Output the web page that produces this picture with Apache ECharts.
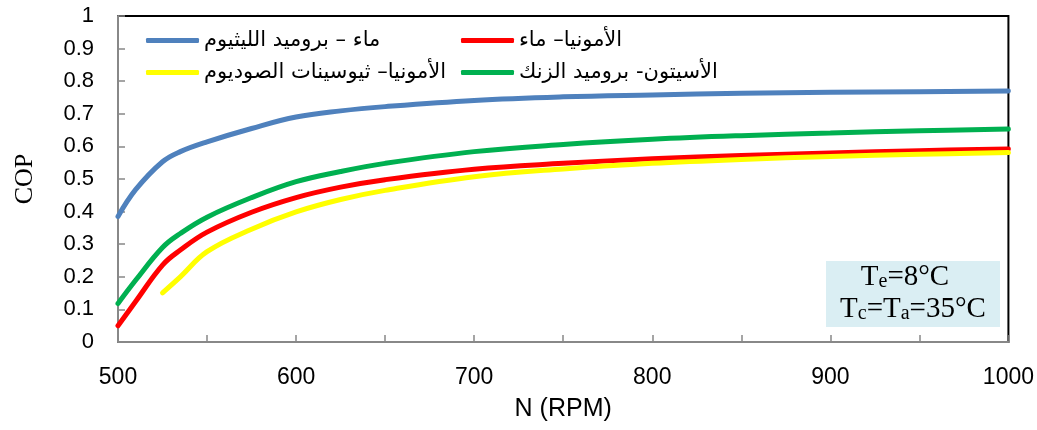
<!DOCTYPE html>
<html><head><meta charset="utf-8">
<script src="https://cdn.jsdelivr.net/npm/echarts@6/dist/echarts.min.js"></script>
<style>html,body{margin:0;padding:0;background:#fff}#c{width:1037px;height:430px}</style>
</head><body><div id="c"></div>
<script>
const N = [500, 510, 525, 535, 550, 575, 600, 625, 650, 700, 750, 800, 850, 900, 950, 1000];
const blueName = 'ماء – بروميد الليثيوم';
const redName = 'الأمونيا– ماء';
const yellowName = 'الأمونيا– ثيوسينات الصوديوم';
const greenName = 'الأسيتون- بروميد الزنك';
const blueVals = [0.385, 0.468, 0.553, 0.584, 0.614, 0.655, 0.690, 0.709, 0.722, 0.741, 0.752, 0.758, 0.763, 0.766, 0.768, 0.770];
const redVals = [0.05, 0.125, 0.236, 0.282, 0.337, 0.398, 0.443, 0.475, 0.498, 0.530, 0.548, 0.562, 0.572, 0.580, 0.587, 0.592];
const yellowVals = [null, null, 0.151, 0.200, 0.277, 0.346, 0.399, 0.437, 0.465, 0.507, 0.531, 0.548, 0.560, 0.569, 0.576, 0.581];
const greenVals = [0.118, 0.19, 0.29, 0.333, 0.383, 0.443, 0.492, 0.523, 0.548, 0.584, 0.606, 0.622, 0.633, 0.641, 0.648, 0.653];

const pairs = v => N.map((n, i) => [n, v[i]]);
const mk = (name, vals, color) => ({
  name, type: 'line', data: pairs(vals), smooth: 0.4, showSymbol: false, symbol: 'none',
  lineStyle: { width: 5, color, cap: 'round' }, itemStyle: { color }, connectNulls: false
});
const legendText = { fontFamily: 'DejaVu Sans', fontSize: 21, color: '#000' };
const lg = (name, left, top) => ({
  data: [name], left, top, icon: 'roundRect', itemWidth: 53, itemHeight: 5, itemGap: 0,
  textStyle: legendText, selectedMode: false, padding: 0
});
const chart = echarts.init(document.getElementById('c'), null, { renderer: 'canvas' });
chart.setOption({
  animation: false,
  grid: { left: 118, right: 27, top: 16, bottom: 88, show: true, borderColor: '#000', borderWidth: 2 },
  legend: [lg(blueName, 146, 30), lg(redName, 461, 30), lg(yellowName, 146, 62), lg(greenName, 461, 62)],
  xAxis: {
    type: 'value', min: 500, max: 1000, interval: 50,
    name: 'N (RPM)', nameLocation: 'middle', nameGap: 55,
    nameTextStyle: { fontFamily: 'Liberation Sans', fontSize: 25, color: '#000' },
    axisLine: { lineStyle: { color: '#888', width: 2 } },
    axisTick: { inside: true, length: 7, lineStyle: { color: '#888', width: 1.5 } },
    axisLabel: { margin: 24, fontFamily: 'Liberation Sans', fontSize: 23, color: '#000',
      formatter: v => (v % 100 === 0 ? String(v) : '') },
    splitLine: { show: false }
  },
  yAxis: {
    type: 'value', min: 0, max: 1, interval: 0.1,
    name: 'COP', nameLocation: 'middle', nameGap: 80,
    nameTextStyle: { fontFamily: 'Liberation Serif', fontSize: 26, color: '#000' },
    axisLine: { show: true, lineStyle: { color: '#888', width: 2 } },
    axisTick: { show: true, inside: true, length: 7, lineStyle: { color: '#888', width: 1.5 } },
    axisLabel: { margin: 24, fontFamily: 'Liberation Sans', fontSize: 22, color: '#000',
      formatter: v => String(Math.round(v * 10) / 10) },
    splitLine: { show: false }
  },
  series: [mk(blueName, blueVals, '#4F81BD'), mk(redName, redVals, '#FF0000'),
           mk(yellowName, yellowVals, '#FFFF00'), mk(greenName, greenVals, '#00B050')],
  graphic: [
    { type: 'rect', left: 826, top: 261, shape: { width: 174, height: 66 }, style: { fill: '#DAEEF3' }, z: 10 },
    { type: 'text', x: 905, y: 277, z: 11, style: {
        text: '{m|T}{s|e}{m|=8°C}', align: 'center', verticalAlign: 'middle',
        rich: { m: { fontFamily: 'Liberation Serif', fontSize: 29, color: '#000' },
                s: { fontFamily: 'Liberation Serif', fontSize: 20, color: '#000', verticalAlign: 'bottom', padding: [8, 0, 0, 0] } } } },
    { type: 'text', x: 913, y: 309, z: 11, style: {
        text: '{m|T}{s|c}{m|=T}{s|a}{m|=35°C}', align: 'center', verticalAlign: 'middle',
        rich: { m: { fontFamily: 'Liberation Serif', fontSize: 29, color: '#000' },
                s: { fontFamily: 'Liberation Serif', fontSize: 20, color: '#000', verticalAlign: 'bottom', padding: [8, 0, 0, 0] } } } }
  ]
});
</script></body></html>
